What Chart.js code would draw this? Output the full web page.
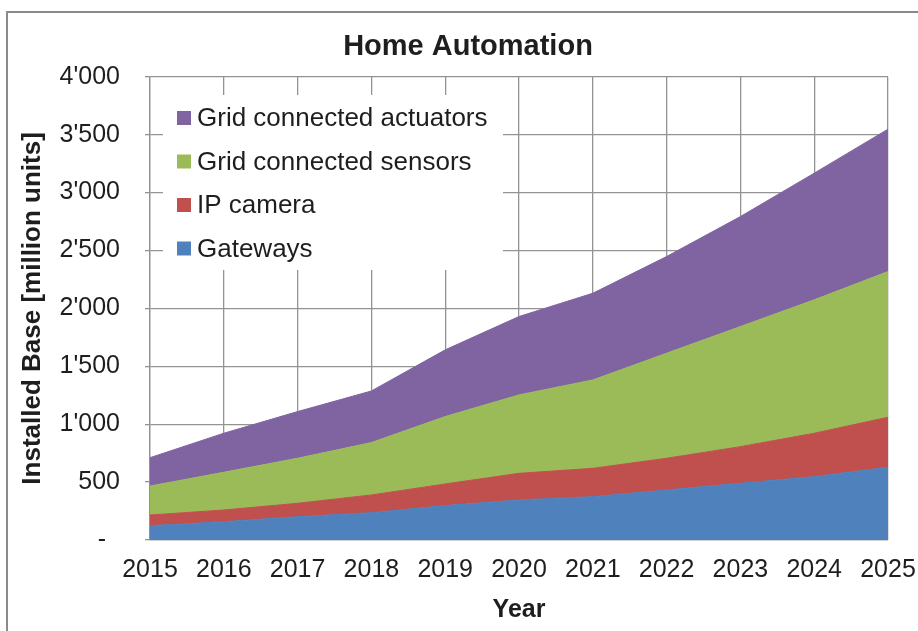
<!DOCTYPE html>
<html>
<head>
<meta charset="utf-8">
<script src="https://cdn.jsdelivr.net/npm/chart.js@4/dist/chart.umd.min.js"></script>
<style>
  html, body { margin: 0; padding: 0; background: #fff; }
  #wrap { position: relative; width: 918px; height: 631px; overflow: hidden; }
  canvas { position: absolute; left: 0; top: 0; }
</style>
</head>
<body>
<div id="wrap"><canvas id="grafico" width="918" height="631"></canvas></div>
<script>
// dados (milhoes de unidades)
const anos = ["2015", "2016", "2017", "2018", "2019", "2020", "2021", "2022", "2023", "2024", "2025"];
const gateways  = [124, 158, 201, 236, 297, 346, 374, 432, 490, 547, 628];
const ipCamera  = [92, 101, 116, 153, 187, 230, 245, 274, 316, 375, 432];
const sensores  = [250, 326, 389, 452, 582, 677, 763, 907, 1037, 1152, 1258];
const atuadores = [245, 337, 403, 446, 576, 677, 749, 835, 950, 1094, 1230];

const FONTE = "'Liberation Sans', Arial, sans-serif";
const COR_TEXTO = "#1e1e1e";
const COR_GRADE = "#939393";

function serie(nome, valores, cor, fill) {
    return {
        label: nome,
        data: valores,
        backgroundColor: cor,
        borderColor: cor,
        borderWidth: 1,
        pointRadius: 0,
        tension: 0,
        fill: fill
    };
}

function formatar(v) {
    if (v === 0) return "-  ";
    return String(v).replace(/\B(?=(\d{3})+(?!\d))/g, "'");
}

/* moldura externa + legenda dentro da area do grafico */
const pluginExtras = {
    id: "extras",
    afterLayout(chart) {
        // titulo um pouco deslocado para a direita, como no original
        if (chart.titleBlock) {
            chart.titleBlock.left += 48;
        }
    },
    beforeDraw(chart) {
        const ctx = chart.ctx;
        ctx.save();
        ctx.strokeStyle = "#8a8a8a";
        ctx.lineWidth = 2;
        ctx.strokeRect(7, 12, 1000, 1000);
        ctx.restore();
    },
    afterDraw(chart) {
        const ctx = chart.ctx;
        ctx.save();
        ctx.fillStyle = "#fff";
        ctx.fillRect(163, 95, 340, 175);

        const itens = chart.data.datasets.slice().reverse();
        ctx.font = "26px " + FONTE;
        ctx.textBaseline = "middle";
        ctx.textAlign = "left";
        itens.forEach((ds, i) => {
            const y = 118 + i * 43.5;
            ctx.fillStyle = ds.backgroundColor;
            ctx.fillRect(177, y - 7, 14, 14);
            ctx.fillStyle = COR_TEXTO;
            ctx.fillText(ds.label, 197, y + 1);
        });
        ctx.restore();
    }
};

new Chart(document.getElementById("grafico"), {
    type: "line",
    data: {
        labels: anos,
        datasets: [
            serie("Gateways", gateways, "#4F81BD", "origin"),
            serie("IP camera", ipCamera, "#C0504D", "-1"),
            serie("Grid connected sensors", sensores, "#9BBB59", "-1"),
            serie("Grid connected actuators", atuadores, "#8064A2", "-1")
        ]
    },
    options: {
        responsive: false,
        animation: false,
        layout: { padding: { left: 0, right: 30, top: 0, bottom: 0 } },
        plugins: {
            legend: { display: false },
            tooltip: { enabled: false },
            title: {
                display: true,
                text: "Home Automation",
                color: COR_TEXTO,
                font: { family: FONTE, size: 29, weight: "bold" },
                padding: { top: 30, bottom: 12 }
            }
        },
        scales: {
            x: {
                offset: false,
                grid: { color: COR_GRADE, lineWidth: 1.3, drawTicks: false, offset: false },
                border: { color: COR_GRADE, width: 1.3 },
                ticks: {
                    color: COR_TEXTO,
                    font: { family: FONTE, size: 25 },
                    padding: 15,
                    maxRotation: 0,
                    autoSkip: false
                },
                title: {
                    display: true,
                    text: "Year",
                    color: COR_TEXTO,
                    font: { family: FONTE, size: 25, weight: "bold" },
                    padding: { top: 0, bottom: 6 }
                },
                afterFit(escala) {
                    escala.height = 91;
                    escala.paddingLeft = 0;
                    escala.paddingRight = 0;
                }
            },
            y: {
                stacked: true,
                min: 0,
                max: 4000,
                grid: { color: COR_GRADE, lineWidth: 1.3, tickLength: 5 },
                border: { color: COR_GRADE, width: 1.3 },
                ticks: {
                    stepSize: 500,
                    color: COR_TEXTO,
                    font: { family: FONTE, size: 25 },
                    padding: 25,
                    callback: v => formatar(v)
                },
                title: {
                    display: true,
                    text: "Installed Base [million units]",
                    color: COR_TEXTO,
                    font: { family: FONTE, size: 26, weight: "bold" },
                    padding: { top: 17, bottom: 0 }
                },
                afterFit(escala) {
                    escala.width = 150;
                    escala.paddingTop = 0;
                    escala.paddingBottom = 0;
                }
            }
        }
    },
    plugins: [pluginExtras]
});
</script>
</body>
</html>
